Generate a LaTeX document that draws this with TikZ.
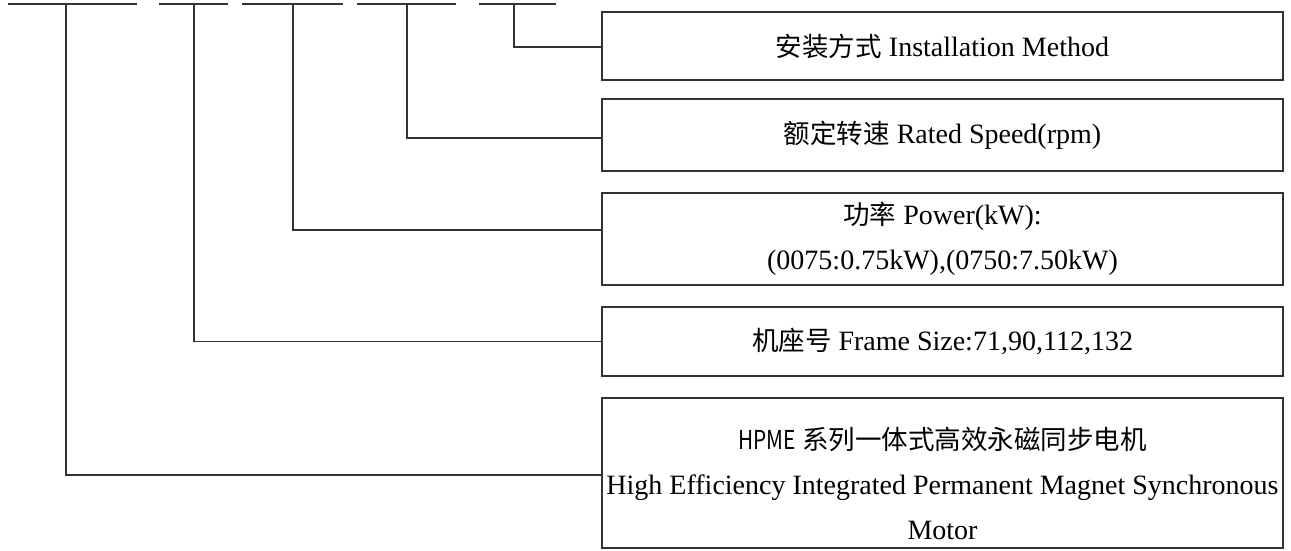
\documentclass[tikz,border=0pt]{standalone}
\usepackage{fontspec}
\setmainfont{Liberation Serif}
\newfontfamily\cjk{Noto Sans CJK SC}
\newfontfamily\narrowsans[FakeStretch=0.8]{Noto Sans CJK SC}
\newcommand\zh[1]{{\cjk\fontsize{26.5}{45}\selectfont #1}}
\usetikzlibrary{positioning}

\begin{document}
\begin{tikzpicture}[x=1pt,y=-1pt,
thin line/.style = {draw=black!80, line width=1.3pt},
info box/.style = {draw=black!80, line width=1.3pt, align=center, minimum width=681pt,
  inner sep=0pt, font=\fontsize{28}{45}\selectfont}]
\useasboundingbox (0,0) rectangle (1291,551);

% code dashes on top
\foreach \l/\r/\m/\n in {8/137/66/1,159/228/194/2,242/343/293/3,357/456/407/4,479/556/514/5}
{
  \draw[thin line] (\l,4) -- (\r,4);
  \coordinate (d\n) at (\m,4);
}

\node[info box, minimum height=68pt] (1) at (942.5,46) {\zh{安装方式} Installation Method};
\node[info box, minimum height=72pt] (2) at (942.5,135) {\zh{额定转速} Rated Speed(rpm)};
\node[info box, minimum height=92pt] (3) at (942.5,239) {\zh{功率} Power(kW):\\(0075:0.75kW),(0750:7.50kW)};
\node[info box, minimum height=69pt] (4) at (942.5,341.5) {\zh{机座号} Frame Size:71,90,112,132};
\node[info box, minimum height=150pt] (5) at (942.5,473) {\rule{0pt}{43pt}{\narrowsans\fontsize{26}{45}\selectfont HPME} \zh{系列一体式高效永磁同步电机}\\High Efficiency Integrated Permanent Magnet Synchronous\\Motor};

\draw[thin line] (d5) |- ([yshift=-1pt]1.west);
\draw[thin line] (d4) |- ([yshift=-3pt]2.west);
\draw[thin line] (d3) |- ([yshift=9pt]3.west);
\draw[thin line] (d2) |- (4.west);
\draw[thin line] (d1) |- ([yshift=-2pt]5.west);
\end{tikzpicture}
\end{document}
